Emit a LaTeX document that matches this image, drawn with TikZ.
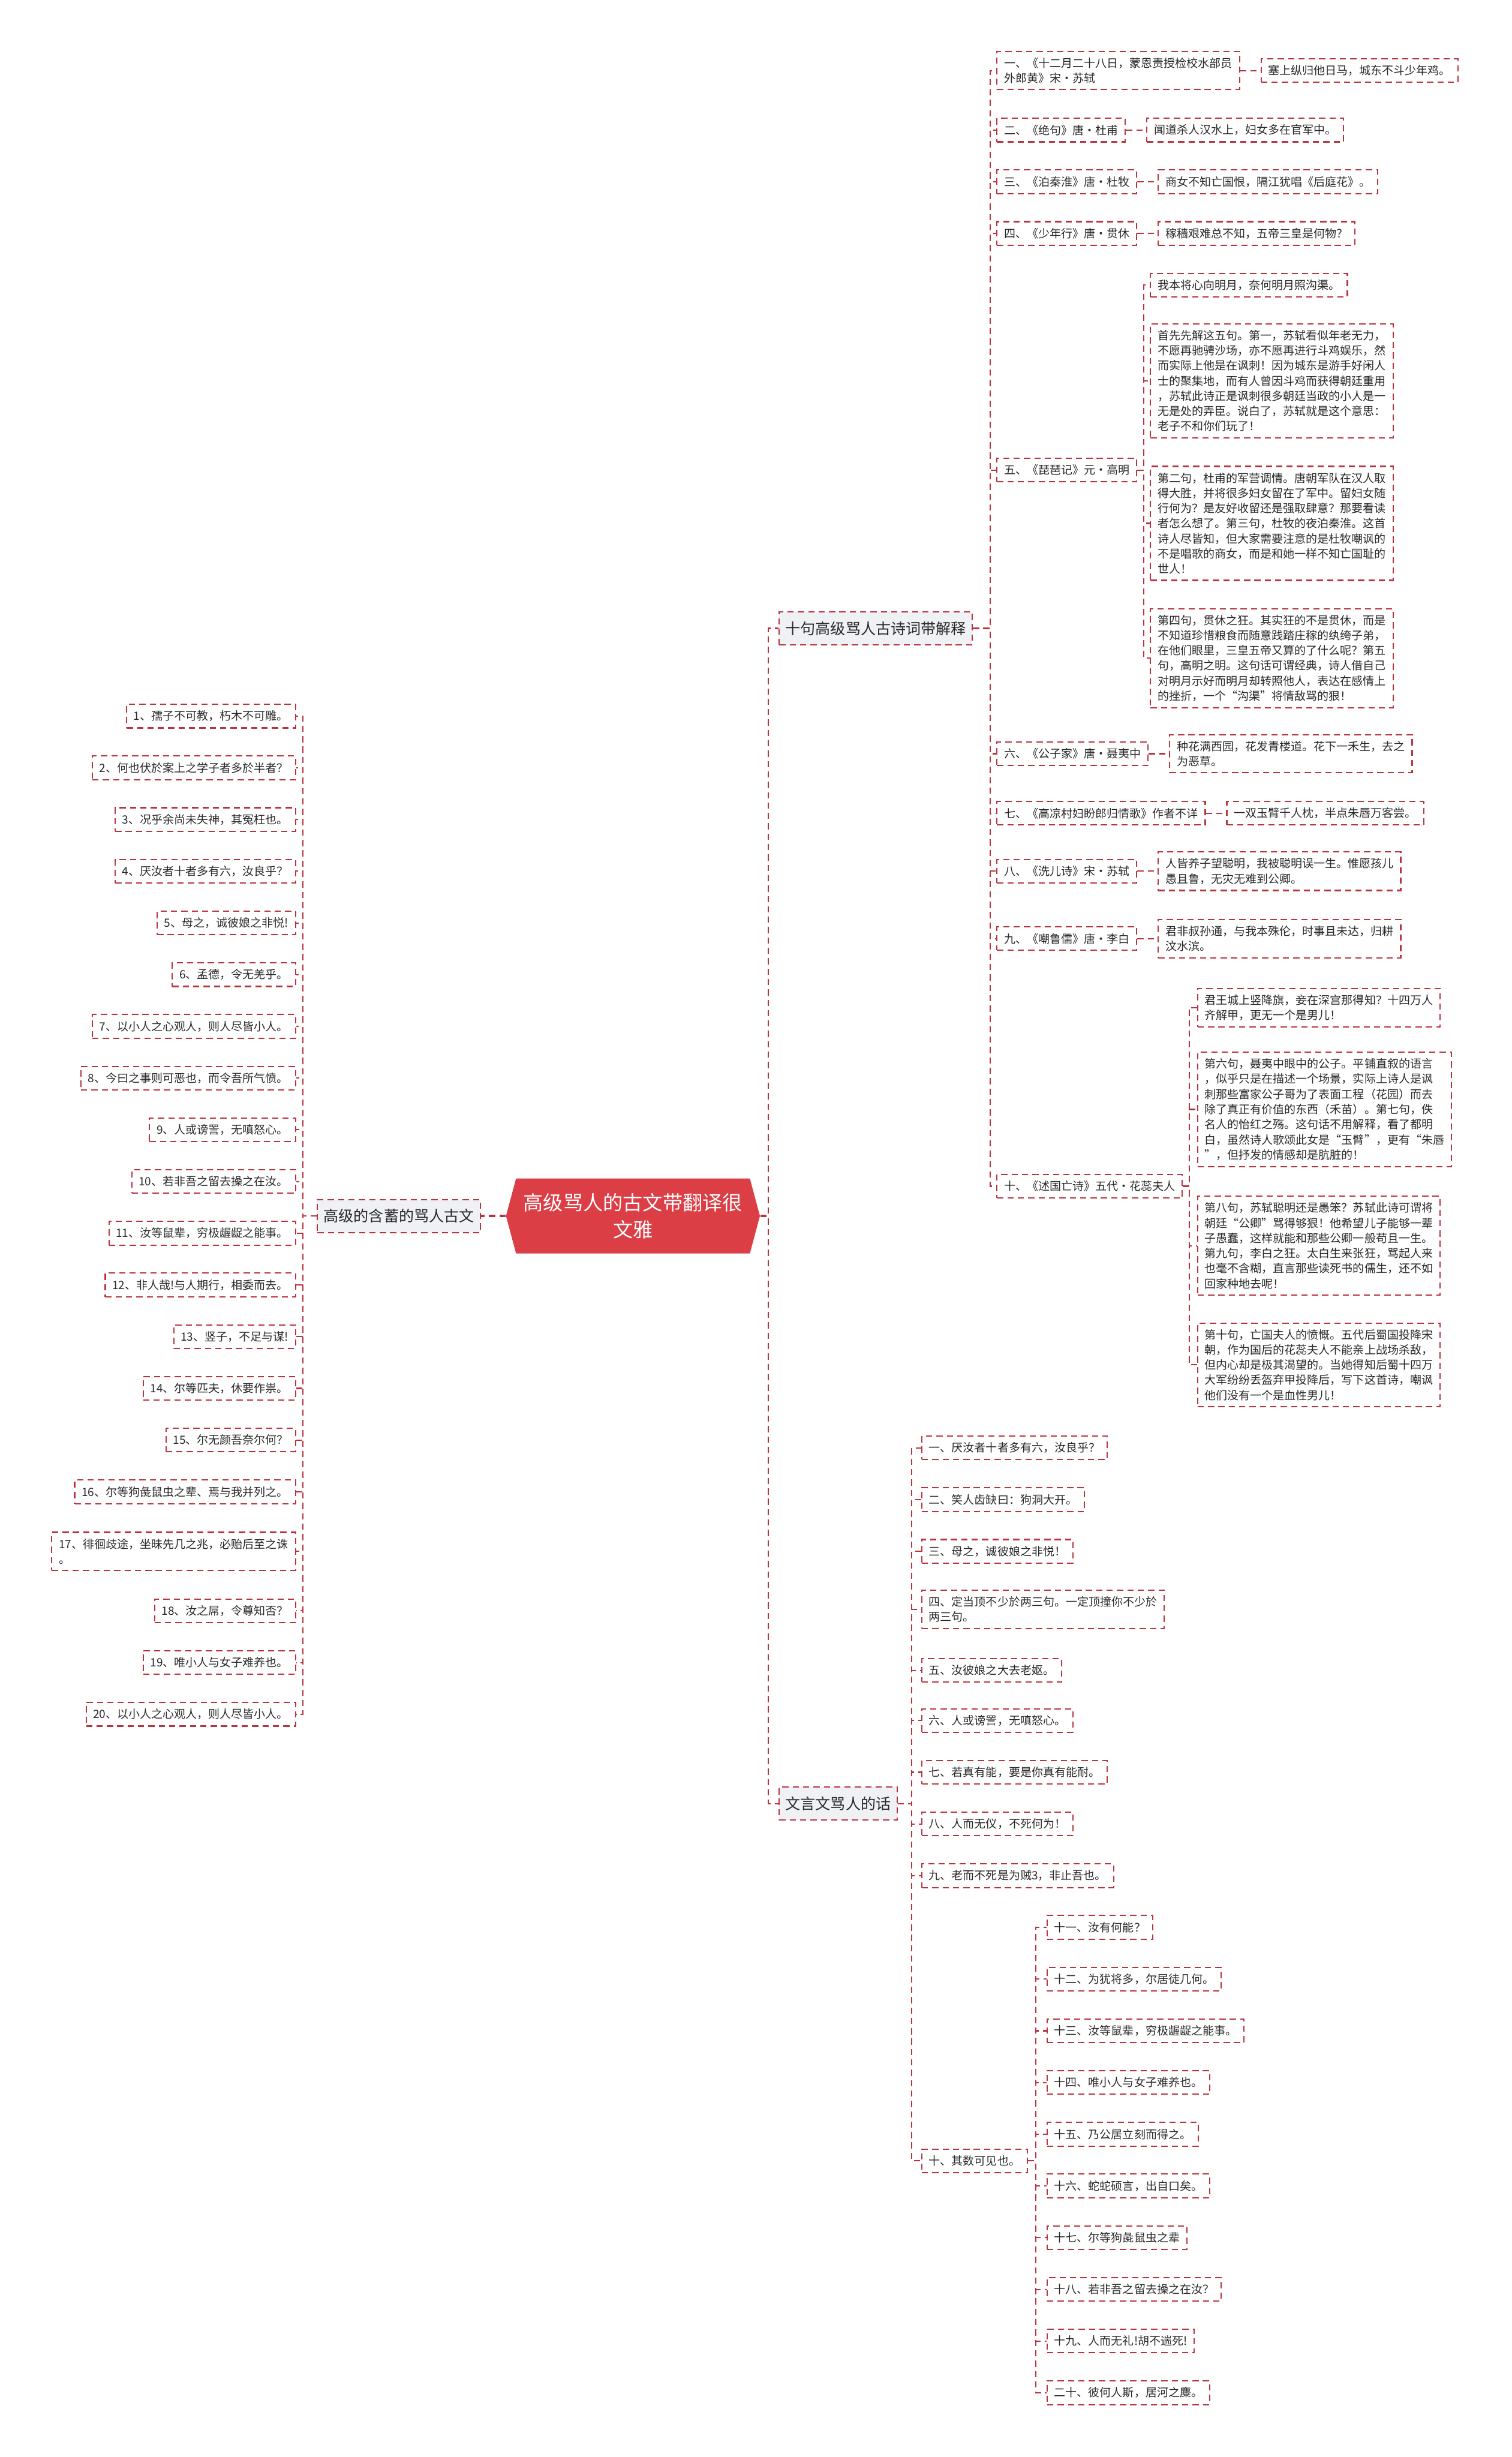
\documentclass[tikz,border=0pt]{standalone}
\usepackage{fontspec}
\setmainfont{Noto Sans CJK SC}
\usetikzlibrary{positioning,shapes.symbols}

\definecolor{linered}{RGB}{184,52,62}
\definecolor{rootred}{RGB}{220,62,70}
\definecolor{branchgrey}{RGB}{239,241,244}
\definecolor{leaftext}{RGB}{40,40,40}

\tikzset{
    link/.style={draw=linered, line width=0.6pt, dash pattern=on 3pt off 2pt},
    rootlink/.style={link, line width=1.3pt},
    leaf/.style={draw=linered, line width=0.6pt, dash pattern=on 3pt off 2pt,
        fill=white, text=leaftext, font=\fontsize{5.5pt}{7.3pt}\selectfont,
        align=left, inner xsep=3.4pt, inner ysep=3pt, minimum height=0.4cm},
    branch/.style={leaf, fill=branchgrey, font=\fontsize{7.25pt}{9pt}\selectfont,
        inner xsep=3pt, minimum height=0.56cm},
    rootnode/.style={signal, signal to=west and east, signal pointer angle=150,
        fill=rootred, text=white, font=\fontsize{9.6pt}{12.8pt}\selectfont,
        align=center, minimum width=4.3cm, minimum height=1.27cm, inner sep=0pt}
}

\begin{document}
\begin{tikzpicture}[x=0.02653cm, y=-0.02653cm]
    \useasboundingbox (0,0) rectangle (965,1568);
    \fill[white] (0,0) rectangle (965,1568);

    % Centre and the three branches
    \node[rootnode] (root) at (404,776) {高级骂人的古文带翻译很\\文雅};
    \node[branch, anchor=east] (lb) at (307,776) {高级的含蓄的骂人古文};
    \node[branch, anchor=west] (r1) at (497,401) {十句高级骂人古诗词带解释};
    \node[branch, anchor=west] (r2) at (497,1151) {文言文骂人的话};

    % Ten poems
    \foreach \i/\y/\txt in {
        1/45/{一、《十二月二十八日，蒙恩责授检校水部员\\外郎黄》宋·苏轼},
        2/83/{二、《绝句》唐·杜甫},
        3/116/{三、《泊秦淮》唐·杜牧},
        4/149/{四、《少年行》唐·贯休},
        5/300/{五、《琵琶记》元·高明},
        6/481/{六、《公子家》唐·聂夷中},
        7/519/{七、《高凉村妇盼郎归情歌》作者不详},
        8/556/{八、《洗儿诗》宋·苏轼},
        9/599/{九、《嘲鲁儒》唐·李白},
        10/757/{十、《述国亡诗》五代·花蕊夫人}} {
        \node[leaf, anchor=west] (a\i) at (636,\y) {\txt};
    }

    % Lines of the poems
    \node[leaf, right=0.345cm of a1] (b1) {塞上纵归他日马，城东不斗少年鸡。};
    \node[leaf, right=0.345cm of a2] (b2) {闻道杀人汉水上，妇女多在官军中。};
    \node[leaf, right=0.345cm of a3] (b3) {商女不知亡国恨，隔江犹唱《后庭花》。};
    \node[leaf, right=0.345cm of a4] (b4) {稼穑艰难总不知，五帝三皇是何物？};
    \node[leaf, right=0.345cm of a6] (b6) {种花满西园，花发青楼道。花下一禾生，去之\\为恶草。};
    \node[leaf, right=0.345cm of a7] (b7) {一双玉臂千人枕，半点朱唇万客尝。};
    \node[leaf, right=0.345cm of a8] (b8) {人皆养子望聪明，我被聪明误一生。惟愿孩儿\\愚且鲁，无灾无难到公卿。};
    \node[leaf, right=0.345cm of a9] (b9) {君非叔孙通，与我本殊伦，时事且未达，归耕\\汶水滨。};

    \node[leaf, anchor=west] (c1) at (734,182) {我本将心向明月，奈何明月照沟渠。};
    \node[leaf, anchor=west] (c2) at (734,243) {首先先解这五句。第一，苏轼看似年老无力，\\不愿再驰骋沙场，亦不愿再进行斗鸡娱乐，然\\而实际上他是在讽刺！因为城东是游手好闲人\\士的聚集地，而有人曾因斗鸡而获得朝廷重用\\，苏轼此诗正是讽刺很多朝廷当政的小人是一\\无是处的弄臣。说白了，苏轼就是这个意思：\\老子不和你们玩了！};
    \node[leaf, anchor=west] (c3) at (734,334) {第二句，杜甫的军营调情。唐朝军队在汉人取\\得大胜，并将很多妇女留在了军中。留妇女随\\行何为？是友好收留还是强取肆意？那要看读\\者怎么想了。第三句，杜牧的夜泊秦淮。这首\\诗人尽皆知，但大家需要注意的是杜牧嘲讽的\\不是唱歌的商女，而是和她一样不知亡国耻的\\世人！};
    \node[leaf, anchor=west] (c4) at (734,420) {第四句，贯休之狂。其实狂的不是贯休，而是\\不知道珍惜粮食而随意践踏庄稼的纨绔子弟，\\在他们眼里，三皇五帝又算的了什么呢？第五\\句，高明之明。这句话可谓经典，诗人借自己\\对明月示好而明月却转照他人，表达在感情上\\的挫折，一个“沟渠”将情敌骂的狠！};

    \node[leaf, anchor=west] (d1) at (764,643) {君王城上竖降旗，妾在深宫那得知？十四万人\\齐解甲，更无一个是男儿！};
    \node[leaf, anchor=west] (d2) at (764,708) {第六句，聂夷中眼中的公子。平铺直叙的语言\\，似乎只是在描述一个场景，实际上诗人是讽\\刺那些富家公子哥为了表面工程（花园）而去\\除了真正有价值的东西（禾苗）。第七句，佚\\名人的怡红之殇。这句话不用解释，看了都明\\白，虽然诗人歌颂此女是“玉臂”，更有“朱唇\\”，但抒发的情感却是肮脏的！};
    \node[leaf, anchor=west] (d3) at (764,795) {第八句，苏轼聪明还是愚笨？苏轼此诗可谓将\\朝廷“公卿”骂得够狠！他希望儿子能够一辈\\子愚蠢，这样就能和那些公卿一般苟且一生。\\第九句，李白之狂。太白生来张狂，骂起人来\\也毫不含糊，直言那些读死书的儒生，还不如\\回家种地去呢！};
    \node[leaf, anchor=west] (d4) at (764,871) {第十句，亡国夫人的愤慨。五代后蜀国投降宋\\朝，作为国后的花蕊夫人不能亲上战场杀敌，\\但内心却是极其渴望的。当她得知后蜀十四万\\大军纷纷丢盔弃甲投降后，写下这首诗，嘲讽\\他们没有一个是血性男儿！};

    % Sayings in classical Chinese
    \foreach \i/\y/\txt in {
        1/924/{一、厌汝者十者多有六，汝良乎？},
        2/957/{二、笑人齿缺曰：狗洞大开。},
        3/990/{三、母之，诚彼娘之非悦！},
        4/1027/{四、定当顶不少於两三句。一定顶撞你不少於\\两三句。},
        5/1066/{五、汝彼娘之大去老妪。},
        6/1098/{六、人或谤詈，无嗔怒心。},
        7/1131/{七、若真有能，要是你真有能耐。},
        8/1164/{八、人而无仪，不死何为！},
        9/1197/{九、老而不死是为贼3，非止吾也。},
        10/1379/{十、其数可见也。}} {
        \node[leaf, anchor=west] (e\i) at (588,\y) {\txt};
    }

    \foreach \i/\txt in {
        11/{十一、汝有何能？},
        12/{十二、为犹将多，尔居徒几何。},
        13/{十三、汝等鼠辈，穷极龌龊之能事。},
        14/{十四、唯小人与女子难养也。},
        15/{十五、乃公居立刻而得之。},
        16/{十六、蛇蛇硕言，出自口矣。},
        17/{十七、尔等狗彘鼠虫之辈},
        18/{十八、若非吾之留去操之在汝？},
        19/{十九、人而无礼!胡不遄死!},
        20/{二十、彼何人斯，居河之麋。}} {
        \node[leaf, anchor=west] (f\i) at (668,{1230+33*(\i-11)}) {\txt};
    }

    % Left column
    \foreach \i/\y/\txt in {
        1/457/{1、孺子不可教，朽木不可雕。},
        2/490/{2、何也伏於案上之学子者多於半者？},
        3/523/{3、况乎余尚未失神，其冤枉也。},
        4/556/{4、厌汝者十者多有六，汝良乎？},
        5/589/{5、母之，诚彼娘之非悦!},
        6/622/{6、孟德，令无羌乎。},
        7/655/{7、以小人之心观人，则人尽皆小人。},
        8/688/{8、今曰之事则可恶也，而令吾所气愤。},
        9/721/{9、人或谤詈，无嗔怒心。},
        10/754/{10、若非吾之留去操之在汝。},
        11/787/{11、汝等鼠辈，穷极龌龊之能事。},
        12/820/{12、非人哉!与人期行，相委而去。},
        13/853/{13、竖子，不足与谋!},
        14/886/{14、尔等匹夫，休要作祟。},
        15/919/{15、尔无颜吾奈尔何？},
        16/952/{16、尔等狗彘鼠虫之辈、焉与我并列之。},
        17/990/{17、徘徊歧途，坐昧先几之兆，必贻后至之诛\\。},
        18/1028/{18、汝之屌，令尊知否？},
        19/1061/{19、唯小人与女子难养也。},
        20/1094/{20、以小人之心观人，则人尽皆小人。}} {
        \node[leaf, anchor=east] (g\i) at (189,\y) {\txt};
    }

    % Connectors
    \draw[rootlink] (root.west) -- (lb.east);
    \draw[rootlink] (root.east) -- ++(5,0);
    \draw[link] (root.east) -- ++(5,0) |- (r1.west);
    \draw[link] (root.east) -- ++(5,0) |- (r2.west);
    \foreach \i in {1,...,10}
        \draw[link] (r1.east) -- ++(11,0) |- (a\i.west);
    \foreach \i in {1,2,3,4,6,7,8,9}
        \draw[link] (a\i.east) -- (b\i.west);
    \foreach \i in {1,...,4}
        \draw[link] (a5.east) -- ++(4,0) |- (c\i.west);
    \foreach \i in {1,...,4}
        \draw[link] (a10.east) -- ++(4,0) |- (d\i.west);
    \foreach \i in {1,...,10}
        \draw[link] (r2.east) -- ++(9,0) |- (e\i.west);
    \foreach \i in {11,...,20}
        \draw[link] (e10.east) -- ++(5,0) |- (f\i.west);
    \foreach \i in {1,...,20}
        \draw[link] (lb.west) -- ++(-9,0) |- (g\i.east);
\end{tikzpicture}
\end{document}
